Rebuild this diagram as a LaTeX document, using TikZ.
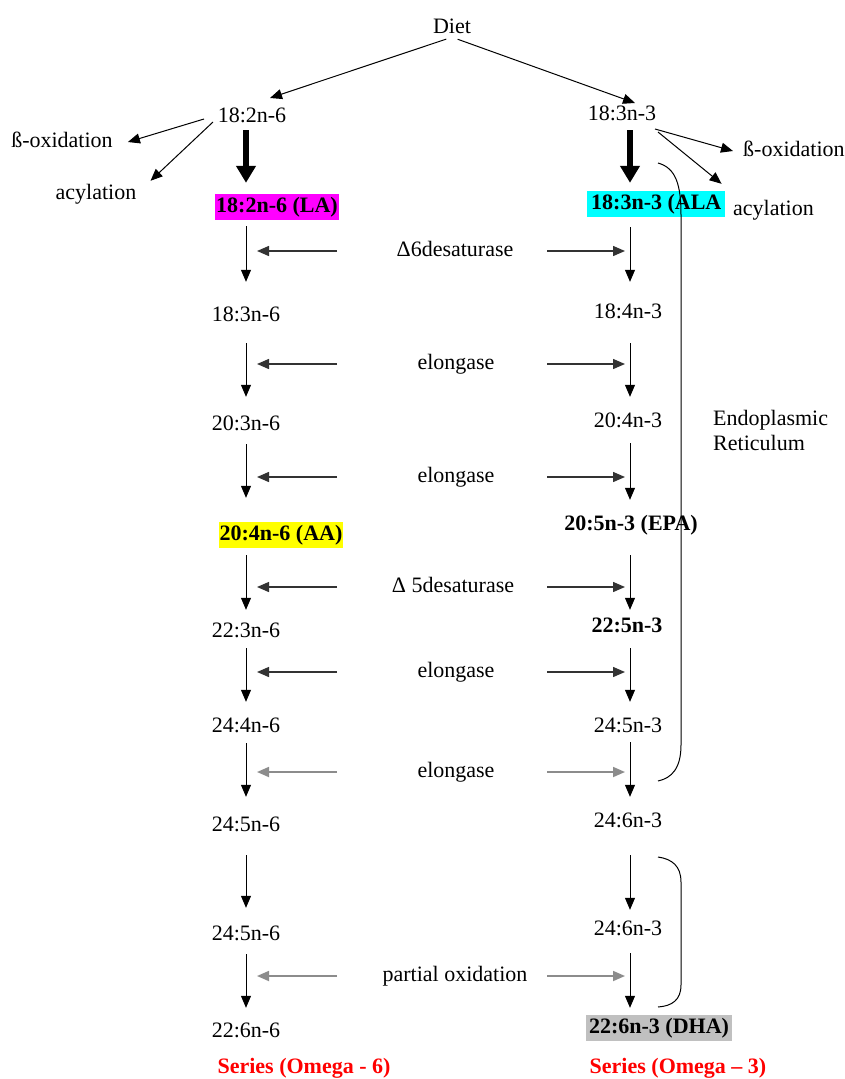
\documentclass[tikz,border=0pt]{standalone}
\usepackage{fontspec}
\setmainfont{Liberation Serif}
\usetikzlibrary{arrows.meta}
\definecolor{magbox}{RGB}{255,0,255}
\definecolor{cyanbox}{RGB}{0,255,255}
\definecolor{yelbox}{RGB}{255,255,0}
\definecolor{graybox}{RGB}{192,192,192}
\definecolor{serred}{RGB}{255,0,0}
\tikzset{
  lbl/.style={inner sep=0pt, font=\fontsize{22}{25}\selectfont, text height=14pt, text depth=4pt},
  blbl/.style={lbl, font=\fontsize{22}{25}\selectfont\bfseries},
  hbox/.style={blbl, inner xsep=1pt, inner ysep=4pt},
  arr/.style={-{Triangle[length=12pt,width=10pt]}, line width=1pt},
  thickarr/.style={-{Triangle[length=17pt,width=19pt]}, line width=5.5pt},
  harr/.style={-{Triangle[length=12pt,width=10pt]}, line width=1.4pt, black!80},
  harrg/.style={-{Triangle[length=12pt,width=10pt]}, line width=1.7pt, black!45},
  bracket/.style={line width=1pt},
}
\begin{document}
\begin{tikzpicture}[x=1pt,y=-1pt]
\useasboundingbox (0,0) rectangle (845,1079);
% columns
\coordinate (L) at (246,0);
\coordinate (R) at (630,0);
% top
\node[lbl] (diet) at (452,28) {Diet};
\node[lbl] (a0) at (252,117) {18:2n-6};
\node[lbl] (b0) at (622,115) {18:3n-3};
\node[lbl] (boxl) at (62,142) {ß-oxidation};
\node[lbl] (acl) at (96,194) {acylation};
\node[lbl, anchor=west] (boxr) at (743,151) {ß-oxidation};
\node[lbl, anchor=west] (acr) at (733,210) {acylation};
\node[hbox, fill=magbox] (a1) at (277,207) {18:2n-6 (LA)};
\node[hbox, fill=cyanbox, anchor=west, minimum width=133pt, inner xsep=4pt, align=left] (b1) at (587,204) {18:3n-3 (ALA\hfill};
% left column
\node[lbl] (a2) at (246,316) {18:3n-6};
\node[lbl] (a3) at (246,425) {20:3n-6};
\node[hbox, fill=yelbox] (a4) at (281,535) {20:4n-6 (AA)};
\node[lbl] (a5) at (246,632) {22:3n-6};
\node[lbl] (a6) at (246,727) {24:4n-6};
\node[lbl] (a7) at (246,826) {24:5n-6};
\node[lbl] (a8) at (246,935) {24:5n-6};
\node[lbl] (a9) at (246,1032) {22:6n-6};
% right column
\node[lbl] (b2) at (628,313) {18:4n-3};
\node[lbl] (b3) at (628,422) {20:4n-3};
\node[blbl] (b4) at (631,525) {20:5n-3 (EPA)};
\node[blbl] (b5) at (627,627) {22:5n-3};
\node[lbl] (b6) at (628,727) {24:5n-3};
\node[lbl] (b7) at (628,822) {24:6n-3};
\node[lbl] (b8) at (628,930) {24:6n-3};
\node[hbox, fill=graybox, inner xsep=3pt] (b9) at (659,1028) {22:6n-3 (DHA)};
% series labels
\node[blbl, text=serred] (sl) at (304,1068) {Series (Omega - 6)};
\node[blbl, text=serred] (sr) at (678,1068) {Series (Omega – 3)};
% ER label
\node[inner sep=0pt, font=\fontsize{22}{25}\selectfont, align=left, anchor=north west] (er) at (713,410) {Endoplasmic\\Reticulum};
% enzymes
\node[lbl] (e1) at (455,251) {Δ6desaturase};
\node[lbl] (e2) at (456,364) {elongase};
\node[lbl] (e3) at (456,477) {elongase};
\node[lbl] (e4) at (453,587) {Δ 5desaturase};
\node[lbl] (e5) at (456,672) {elongase};
\node[lbl] (e6) at (456,772) {elongase};
\node[lbl] (e7) at (455,976) {partial oxidation};
% diet arrows
\coordinate (dl) at (270,98);
\coordinate (dr) at (635,103);
\draw[arr, shorten <=6pt] (diet.south) -- (dl);
\draw[arr, shorten <=6pt] (diet.south) -- (dr);
% side arrows
\coordinate (p1) at (204,119);
\coordinate (p2) at (213,122);
\coordinate (p3) at (655,129);
\coordinate (p4) at (658,132);
\draw[arr] (p1) -- ([xshift=15pt]boxl.east);
\draw[arr] (p2) -- ([shift={(14,-4)}]acl.north east);
\draw[arr] (p3) -- ([xshift=-10pt]boxr.west);
\draw[arr] (p4) -- ([shift={(-4,-7)}]b1.north east);
% thick arrows
\draw[thickarr, shorten <=4pt, shorten >=11pt] (a0.south -| L) -- (a1.north -| L);
\draw[thickarr, shorten <=6pt, shorten >=8pt] (b0.south -| R) -- (b1.north -| R);
% vertical arrows left
\draw[arr, shorten <=6pt, shorten >=25pt] (a1.south -| L) -- (a2.north -| L);
\draw[arr, shorten <=18pt, shorten >=19pt] (a2.south -| L) -- (a3.north -| L);
\draw[arr, shorten <=10pt, shorten >=24pt] (a3.south -| L) -- (a4.north -| L);
\draw[arr, shorten <=7pt, shorten >=13pt] (a4.south -| L) -- (a5.north -| L);
\draw[arr, shorten <=7pt, shorten >=16pt] (a5.south -| L) -- (a6.north -| L);
\draw[arr, shorten <=7pt, shorten >=20pt] (a6.south -| L) -- (a7.north -| L);
\draw[arr, shorten <=20pt, shorten >=18pt] (a7.south -| L) -- (a8.north -| L);
\draw[arr, shorten <=10pt, shorten >=15pt] (a8.south -| L) -- (a9.north -| L);
% vertical arrows right
\draw[arr, shorten <=10pt, shorten >=22pt] (b1.south -| R) -- (b2.north -| R);
\draw[arr, shorten <=21pt, shorten >=16pt] (b2.south -| R) -- (b3.north -| R);
\draw[arr, shorten <=12pt, shorten >=16pt] (b3.south -| R) -- (b4.north -| R);
\draw[arr, shorten <=21pt, shorten >=8pt] (b4.south -| R) -- (b5.north -| R);
\draw[arr, shorten <=12pt, shorten >=16pt] (b5.south -| R) -- (b6.north -| R);
\draw[arr, shorten <=6pt, shorten >=16pt] (b6.south -| R) -- (b7.north -| R);
\draw[arr, shorten <=24pt, shorten >=11pt] (b7.south -| R) -- (b8.north -| R);
\draw[arr, shorten <=14pt, shorten >=7pt] (b8.south -| R) -- (b9.north -| R);
% horizontal enzyme arrows
\foreach \e/\s in {e1/harr,e2/harr,e3/harr,e4/harr,e5/harr,e6/harrg,e7/harrg}{
  \coordinate (hl) at (337,0 |- \e.center);
  \coordinate (hr) at (547,0 |- \e.center);
  \draw[\s] (hl) -- ([xshift=11pt]hl -| L);
  \draw[\s] (hr) -- ([xshift=-5pt]hr -| R);
}
% brackets
\draw[bracket] (658,163) .. controls (676,168) and (681,185) .. (681,215)
  -- (681,745) .. controls (681,768) and (672,778) .. (658,781);
\draw[bracket] (658,857) .. controls (672,859) and (681,866) .. (681,882)
  -- (681,985) .. controls (681,1000) and (672,1006) .. (658,1007);
\end{tikzpicture}
\end{document}
